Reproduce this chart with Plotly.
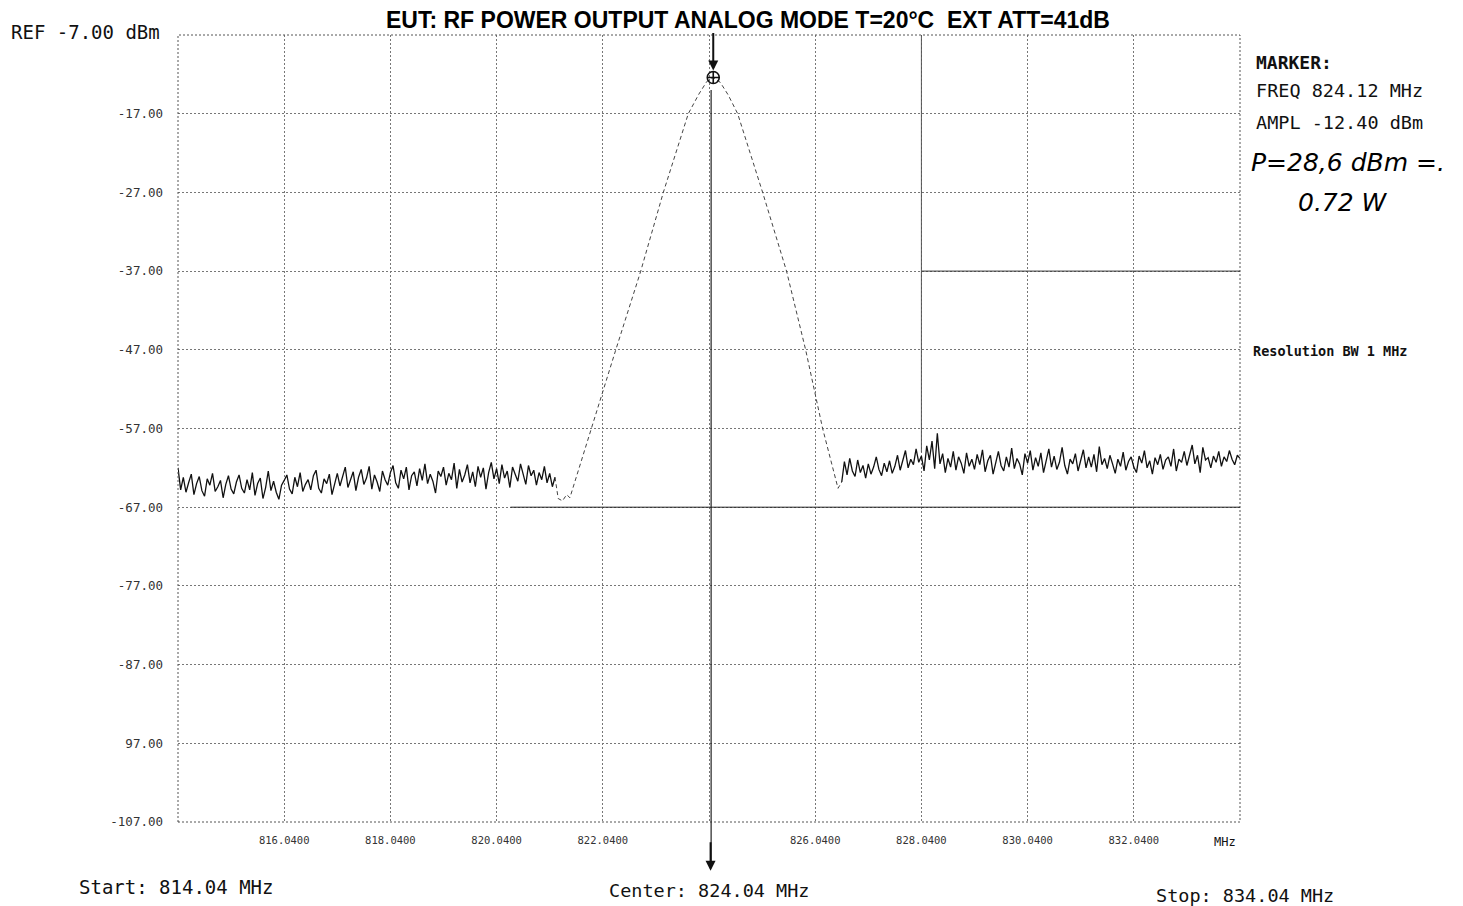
import numpy as np
import plotly.graph_objects as go

# ---------------- data ----------------
x_ticks = [816.04, 818.04, 820.04, 822.04, 824.04, 826.04, 828.04, 830.04, 832.04]
x_ticktext = ["816.0400", "818.0400", "820.0400", "822.0400", "", "826.0400",
              "828.0400", "830.0400", "832.0400"]
y_ticks = [-17, -27, -37, -47, -57, -67, -77, -87, -97, -107]
y_ticktext = ["-17.00", "-27.00", "-37.00", "-47.00", "-57.00", "-67.00",
              "-77.00", "-87.00", "97.00", "-107.00"]

sweep_step = 0.05
left_start = 814.04
noise_left = [
    -62.0, -64.8, -63.2, -65.1, -63.9, -62.8, -65.4, -64.0, -63.1, -64.9,
    -65.6, -63.4, -64.2, -62.7, -65.0, -64.4, -63.6, -65.8, -64.1, -63.0,
    -64.7, -65.3, -63.8, -62.9, -64.6, -65.2, -63.5, -64.8, -62.6, -65.5,
    -64.0, -63.3, -65.9, -64.5, -62.4, -64.9, -63.7, -65.1, -66.0, -64.2,
    -63.6, -62.9, -64.7, -65.3, -63.2, -64.4, -62.6, -65.0, -64.1, -63.5,
    -64.8, -63.0, -62.3, -64.6, -65.2, -63.4, -64.0, -62.8, -65.4, -63.9,
    -62.7, -64.3, -63.1, -61.9, -64.5, -63.6, -62.5, -64.9, -63.2, -62.2,
    -64.1, -63.3, -61.8, -64.7, -62.9, -63.8, -65.0, -62.4, -63.5, -64.2,
    -62.6, -61.7, -63.9, -64.6, -62.3, -63.4, -61.9, -64.8, -63.0, -62.5,
    -64.3, -62.1, -63.6, -61.5, -64.0, -62.8, -63.7, -65.2, -62.4, -63.1,
    -61.9, -64.2, -62.7, -63.5, -61.4, -64.6, -62.2, -63.8, -62.9, -61.6,
    -63.9, -62.5, -64.4, -61.8, -63.2, -62.0, -64.7, -62.6, -61.3, -63.4,
    -62.1, -64.0, -61.6, -63.3, -62.4, -64.5, -61.9, -62.8, -63.7, -61.5,
    -62.9, -64.1, -61.7, -63.0, -62.3, -64.2, -62.6, -63.5, -61.8, -63.9,
    -62.7, -64.4, -63.2,
]

signal_freq = [821.14, 821.20, 821.28, 821.36, 821.42, 821.48, 821.81, 822.28,
               822.75, 823.18, 823.65, 823.85, 824.00, 824.12, 824.25, 824.40,
               824.58, 825.05, 825.50, 825.86, 826.18, 826.40, 826.47, 826.54]
signal_dbm = [-63.2, -65.9, -66.2, -65.4, -65.8, -64.5, -57.1, -47.1,
              -37.1, -27.0, -17.0, -14.5, -12.9, -12.4, -13.0, -14.6,
              -17.0, -27.0, -37.0, -47.0, -57.0, -62.5, -64.6, -63.8]

right_start = 826.54
noise_right = [
    -63.8, -61.2, -62.9, -60.8, -62.4, -63.1, -61.0, -62.6, -61.7, -63.3,
    -61.5, -62.8, -61.9, -60.6, -62.2, -63.0, -61.4, -62.5, -61.1, -62.7,
    -61.8, -60.4, -62.3, -61.2, -59.8, -62.0, -60.9, -61.6, -59.6, -61.3,
    -60.5, -62.4, -59.2, -61.0, -58.6, -62.1, -57.6, -61.5, -60.2, -62.6,
    -60.8, -61.9, -59.9, -62.3, -60.6, -61.4, -62.7, -60.1, -61.8, -60.9,
    -62.2, -60.3, -61.6, -59.7, -62.5, -61.1, -60.4, -62.8, -61.3, -59.9,
    -61.7, -62.4, -60.6, -61.9, -59.5, -62.1, -60.8, -61.5, -62.9, -60.2,
    -61.4, -59.8, -62.3, -60.7, -61.8, -60.1, -62.6, -61.0, -59.6, -61.9,
    -60.5, -62.2, -61.3, -59.4, -61.7, -62.8, -60.9, -61.5, -60.2, -62.4,
    -61.1, -59.7, -62.0, -60.6, -61.9, -60.3, -62.5, -59.3, -61.6, -60.8,
    -62.1, -60.4, -61.5, -62.7, -60.9, -61.8, -60.0, -62.3, -61.2, -60.6,
    -61.9, -62.6, -60.5, -61.4, -59.8, -62.0, -61.1, -62.8, -60.7, -61.6,
    -60.3, -62.2, -61.0, -60.6, -61.8, -59.6, -62.4, -60.9, -61.3, -59.9,
    -61.7, -60.2, -59.1, -61.5, -60.4, -62.6, -59.4, -61.0, -60.7, -62.0,
    -60.5, -61.3, -59.9, -61.8, -60.6, -61.2, -59.8, -60.9, -61.6, -60.4,
    -60.8,
]

marker_freq = 824.12
marker_ampl = -12.40
center_freq = 824.04
x_range = [814.04, 834.04]
y_range = [-107, -7]

# sweep frequencies for the noise sections
freq_left = np.round(left_start + sweep_step * np.arange(len(noise_left)), 4)
freq_right = np.round(right_start + sweep_step * np.arange(len(noise_right)), 4)

MONO = "DejaVu Sans Mono"
TXT = "#111111"

# page layout (page pixel coords of the plot box; the html body adds an 8px offset)
PX_L, PX_R, PX_T, PX_B = 178, 1240, 35, 822
PW, PH = PX_R - PX_L, PX_B - PX_T


def px(xp):
    return (xp - PX_L) / PW


def py(yp):
    return (PX_B - yp) / PH


fig = go.Figure()
fig.add_trace(go.Scatter(x=freq_left, y=noise_left, mode="lines",
                         line=dict(color="#111111", width=1.3), showlegend=False))
fig.add_trace(go.Scatter(x=signal_freq, y=signal_dbm, mode="lines",
                         line=dict(color="#444444", width=1, dash="4px,3px"),
                         showlegend=False))
fig.add_trace(go.Scatter(x=freq_right, y=noise_right, mode="lines",
                         line=dict(color="#111111", width=1.3), showlegend=False))
fig.add_trace(go.Scatter(x=[marker_freq], y=[marker_ampl], mode="markers",
                         marker=dict(symbol="circle-cross-open", size=12,
                                     color="#111111", line=dict(width=1.6)),
                         showlegend=False))

grid = dict(showgrid=True, gridcolor="#777777", gridwidth=1, griddash="2px,2px",
            zeroline=False, showline=False, ticks="")

fig.update_xaxes(range=x_range, tickvals=x_ticks, ticktext=x_ticktext,
                 tickfont=dict(family=MONO, size=10.5, color="#333333"),
                 ticklabelstandoff=10, **grid)
fig.update_yaxes(range=y_range, tickvals=y_ticks, ticktext=y_ticktext,
                 tickfont=dict(family=MONO, size=12.5, color="#333333"),
                 ticklabelstandoff=14, **grid)

shapes = [
    dict(type="rect", xref="paper", yref="paper", x0=0, x1=1, y0=0, y1=1,
         line=dict(color="#555555", width=1, dash="2px,2px")),
    dict(type="line", xref="x", yref="y", x0=820.3, x1=834.04, y0=-67, y1=-67,
         line=dict(color="#222222", width=1)),
    dict(type="line", xref="x", yref="y", x0=828.04, x1=834.04, y0=-37, y1=-37,
         line=dict(color="#333333", width=1)),
    dict(type="line", xref="x", yref="y", x0=828.04, x1=828.04, y0=-7, y1=-60,
         line=dict(color="#555555", width=1)),
    dict(type="line", xref="x", yref="paper", x0=824.08, x1=824.08, y0=0.93, y1=-0.05,
         line=dict(color="#222222", width=1.2)),
]

annotations = [
    dict(text="<b>EUT: RF POWER OUTPUT ANALOG MODE T=20°C  EXT ATT=41dB</b>",
         xref="paper", yref="paper", x=px(748), y=py(20),
         xanchor="center", yanchor="middle", showarrow=False,
         font=dict(family="Liberation Sans", size=23, color="#000000")),
    dict(text="REF -7.00 dBm", xref="paper", yref="paper",
         x=px(9), y=py(32), xanchor="left", yanchor="middle",
         showarrow=False, font=dict(family=MONO, size=19, color=TXT)),
    dict(text="Start: 814.04 MHz", xref="paper", yref="paper",
         x=px(77), y=py(887), xanchor="left", yanchor="middle",
         showarrow=False, font=dict(family=MONO, size=19, color=TXT)),
    dict(text="Center: 824.04 MHz", xref="paper", yref="paper",
         x=px(607), y=py(890), xanchor="left", yanchor="middle",
         showarrow=False, font=dict(family=MONO, size=18.5, color=TXT)),
    dict(text="Stop: 834.04 MHz", xref="paper", yref="paper",
         x=px(1154), y=py(895), xanchor="left", yanchor="middle",
         showarrow=False, font=dict(family=MONO, size=18.5, color=TXT)),
    dict(text="MHz", xref="paper", yref="paper",
         x=px(1238), y=py(842), xanchor="right", yanchor="middle",
         showarrow=False, font=dict(family=MONO, size=12, color=TXT)),
    dict(text="<b>MARKER:</b>", xref="paper", yref="paper",
         x=px(1254), y=py(62), xanchor="left", yanchor="middle",
         showarrow=False, font=dict(family=MONO, size=18, color=TXT)),
    dict(text="FREQ 824.12 MHz", xref="paper", yref="paper",
         x=px(1254), y=py(90), xanchor="left", yanchor="middle",
         showarrow=False, font=dict(family=MONO, size=18.5, color=TXT)),
    dict(text="AMPL -12.40 dBm", xref="paper", yref="paper",
         x=px(1254), y=py(122), xanchor="left", yanchor="middle",
         showarrow=False, font=dict(family=MONO, size=18.5, color=TXT)),
    dict(text="<i>P=28,6 dBm =.</i>", xref="paper", yref="paper",
         x=px(1249), y=py(162), xanchor="left", yanchor="middle",
         showarrow=False, font=dict(family="DejaVu Sans", size=25, color="#000000")),
    dict(text="<i>0.72 W</i>", xref="paper", yref="paper",
         x=px(1296), y=py(202), xanchor="left", yanchor="middle",
         showarrow=False, font=dict(family="DejaVu Sans", size=25, color="#000000")),
    dict(text="<b>Resolution BW 1 MHz</b>", xref="paper", yref="paper",
         x=px(1251), y=py(351), xanchor="left", yanchor="middle",
         showarrow=False, font=dict(family=MONO, size=13.5, color=TXT)),
    # marker arrow from the top border
    dict(text="", x=marker_freq, y=marker_ampl, xref="x", yref="y",
         ax=0, ay=-46, showarrow=True, arrowhead=2, arrowsize=1, arrowwidth=2,
         arrowcolor="#111111", standoff=7),
    # center arrow below the plot
    dict(text="", x=center_freq + 0.03, y=-0.062, xref="x", yref="paper",
         ax=0, ay=-30, showarrow=True, arrowhead=2, arrowsize=1, arrowwidth=2,
         arrowcolor="#111111"),
]

OFF = 8  # default body margin of the html page
fig.update_layout(
    width=1463 - OFF, height=906 - OFF,
    margin=dict(l=PX_L - OFF, r=(1463 - OFF) - (PX_R - OFF),
                t=PX_T - OFF, b=(906 - OFF) - (PX_B - OFF)),
    plot_bgcolor="white", paper_bgcolor="white",
    shapes=shapes, annotations=annotations, showlegend=False,
)

fig.write_html("out.html")
